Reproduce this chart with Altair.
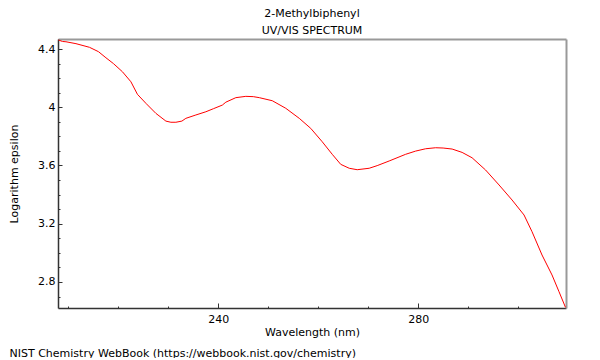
import altair as alt
import pandas as pd

# Data
wavelength = [208.0, 208.8, 209.5, 211.5, 214.2, 216.0, 217.5, 219.0, 220.8, 222.5,
              223.8, 225.5, 227.5, 229.5, 230.5, 231.5, 232.7, 233.5, 235.5, 237.5,
              239.0, 240.8, 241.5, 243.5, 245.5, 247.0, 248.2, 250.8, 253.5, 256.2,
              258.5, 260.8, 262.8, 264.5, 266.2, 267.8, 270.2, 271.8, 274.2, 277.5,
              279.5, 281.5, 283.5, 285.0, 286.8, 288.8, 290.8, 293.5, 296.2, 298.8,
              301.2, 302.8, 304.8, 306.8, 308.2, 309.5]
log_epsilon = [4.462, 4.452, 4.450, 4.437, 4.412, 4.382, 4.340, 4.300, 4.244, 4.175,
               4.089, 4.027, 3.958, 3.905, 3.897, 3.897, 3.905, 3.924, 3.947, 3.969,
               3.990, 4.015, 4.035, 4.066, 4.075, 4.073, 4.066, 4.045, 3.993, 3.924,
               3.855, 3.763, 3.677, 3.608, 3.581, 3.571, 3.581, 3.599, 3.631, 3.677,
               3.699, 3.715, 3.722, 3.720, 3.713, 3.690, 3.653, 3.569, 3.466, 3.363,
               3.260, 3.145, 2.985, 2.848, 2.733, 2.625]

x_major = [240, 280]
x_minor = [210, 220, 230, 250, 260, 270, 290, 300]
y_major = [2.8, 3.2, 3.6, 4.0, 4.4]
y_minor = [2.7, 2.9, 3.0, 3.1, 3.3, 3.4, 3.5, 3.7, 3.8, 3.9, 4.1, 4.2, 4.3]
x_domain = [207.9, 309.6]
y_domain = [2.621, 4.469]

title_lines = ["2-Methylbiphenyl", "UV/VIS SPECTRUM"]
x_title = "Wavelength (nm)"
y_title = "Logarithm epsilon"
footer = "NIST Chemistry WebBook (https://webbook.nist.gov/chemistry)"

df = pd.DataFrame({"wavelength": wavelength, "logeps": log_epsilon})

FONT = "DejaVu Sans"
DARK = "#333333"
xs = alt.Scale(domain=x_domain, nice=False, zero=False)
ys = alt.Scale(domain=y_domain, nice=False, zero=False)

base = alt.Chart(df)

main = base.mark_line(color="#ff0000", strokeWidth=1).encode(
    x=alt.X("wavelength:Q", scale=xs,
            axis=alt.Axis(orient="bottom", values=x_major, ticks=False, grid=False,
                          domainColor=DARK, domainWidth=1.5,
                          labelFont=FONT, labelFontSize=11, labelColor="#000",
                          labelPadding=5, title=x_title, titleFont=FONT,
                          titleFontSize=11, titleFontWeight="normal",
                          titleColor="#000", titlePadding=2)),
    y=alt.Y("logeps:Q", scale=ys,
            axis=alt.Axis(orient="left", values=y_major, format="~g", ticks=False,
                          grid=False, domainColor=DARK, domainWidth=1.5,
                          labelFont=FONT, labelFontSize=11, labelColor="#000",
                          labelPadding=3, title=y_title, titleFont=FONT,
                          titleFontSize=11, titleFontWeight="normal",
                          titleColor="#000", titlePadding=18)),
)


def tick_layer(xvals, xlen, yvals, ylen):
    return base.mark_line(opacity=0).encode(
        x=alt.X("wavelength:Q", scale=xs,
                axis=alt.Axis(orient="bottom", values=xvals, offset=-xlen,
                              tickSize=xlen, tickColor=DARK, tickWidth=1,
                              domain=False, labels=False, grid=False, title=None)),
        y=alt.Y("logeps:Q", scale=ys,
                axis=alt.Axis(orient="left", values=yvals, offset=-ylen,
                              tickSize=ylen, tickColor=DARK, tickWidth=1,
                              domain=False, labels=False, grid=False, title=None)),
    )


major = tick_layer(x_major, 5, y_major, 4)
minor = tick_layer(x_minor, 2, y_minor, 2)

frame = base.mark_line(opacity=0).encode(
    x=alt.X("wavelength:Q", scale=xs,
            axis=alt.Axis(orient="top", ticks=False, labels=False, grid=False,
                          domainColor="#999999", domainWidth=2, title=None)),
    y=alt.Y("logeps:Q", scale=ys,
            axis=alt.Axis(orient="right", ticks=False, labels=False, grid=False,
                          domainColor="#999999", domainWidth=2, title=None)),
)

foot = base.mark_line(opacity=0).encode(
    x=alt.X("wavelength:Q", scale=xs,
            axis=alt.Axis(orient="bottom", ticks=False, labels=False, grid=False,
                          domain=False, title=footer, titleFont=FONT,
                          titleFontSize=11, titleFontWeight="normal",
                          titleColor="#000", titleX=-49, titleY=39,
                          titleAlign="left", titleBaseline="top")),
    y=alt.Y("logeps:Q", scale=ys, axis=None),
)

chart = (
    alt.layer(main, major, minor, frame, foot)
    .resolve_axis(x="independent", y="independent")
    .properties(
        width=508,
        height=269,
        padding={"left": 0, "top": 0, "right": 0, "bottom": 0},
        title=alt.Title(title_lines, font=FONT, fontSize=11, fontWeight="normal",
                        color="#000", anchor="middle", frame="group",
                        lineHeight=17, offset=2),
    )
    .configure_view(strokeWidth=0)
)

chart.save("out.html", embed_options={"renderer": "svg", "actions": False})
